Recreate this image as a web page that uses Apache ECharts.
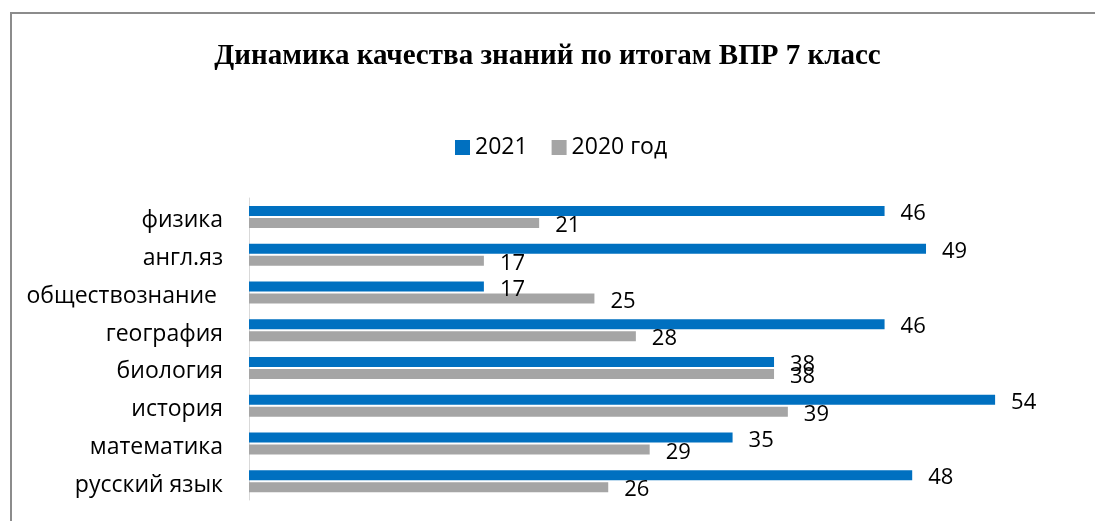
<!DOCTYPE html>
<html>
<head>
<meta charset="utf-8">
<script src="https://cdn.jsdelivr.net/npm/echarts@6/dist/echarts.min.js"></script>
<style>
  html, body { margin: 0; padding: 0; background: #fff; }
  #chart { width: 1095px; height: 521px; }
</style>
</head>
<body>
<div id="chart"></div>
<script>
// categories from bottom to top, as the axis draws them
var subjects = ['русский язык', 'математика', 'история', 'биология', 'география', 'обществознание ', 'англ.яз', 'физика'];
var values2021 = [48, 35, 54, 38, 46, 17, 49, 46];
var values2020 = [26, 29, 39, 38, 28, 25, 17, 21];
var seriesNames = ['2021', '2020 год'];

var chart = echarts.init(document.getElementById('chart'));

var labelStyle = {
  show: true,
  position: 'right',
  distance: 16,
  offset: [0, 3],
  color: '#000',
  fontFamily: 'Open Sans',
  fontSize: 22
};

var option = {
  backgroundColor: '#fff',
  animation: false,
  title: {
    text: 'Динамика качества знаний по итогам ВПР 7 класс',
    left: 'center',
    top: 37,
    textStyle: {
      fontFamily: 'Liberation Serif',
      fontWeight: 'bold',
      fontSize: 29,
      color: '#000'
    }
  },
  legend: {
    top: 131,
    left: 450,
    itemWidth: 15,
    itemHeight: 15,
    itemGap: 24,
    icon: 'rect',
    textStyle: { fontFamily: 'Open Sans', fontSize: 23, color: '#000' },
    data: seriesNames
  },
  graphic: [{
    type: 'rect',
    shape: { x: 11, y: 13, width: 1200, height: 600 },
    style: { fill: 'none', stroke: '#8c8c8c', lineWidth: 2 },
    silent: true
  }],
  grid: {
    left: 249,
    right: 17,
    top: 198,
    bottom: 21
  },
  xAxis: {
    type: 'value',
    min: 0,
    max: 60,
    show: false
  },
  yAxis: {
    type: 'category',
    data: subjects,
    axisLine: { show: true, lineStyle: { color: '#d9d9d9', width: 1 } },
    axisTick: { show: false },
    axisLabel: {
      margin: 26,
      color: '#000',
      fontFamily: 'Open Sans',
      fontSize: 23,
      verticalAlign: 'top',
      lineHeight: 8
    }
  },
  series: [
    {
      name: seriesNames[0],
      type: 'bar',
      data: values2021,
      barWidth: 10,
      barGap: '20%',
      itemStyle: { color: '#0070c0' },
      label: labelStyle
    },
    {
      name: seriesNames[1],
      type: 'bar',
      data: values2020,
      barWidth: 10,
      itemStyle: { color: '#a5a5a5' },
      label: labelStyle
    }
  ]
};

chart.setOption(option);
</script>
</body>
</html>
